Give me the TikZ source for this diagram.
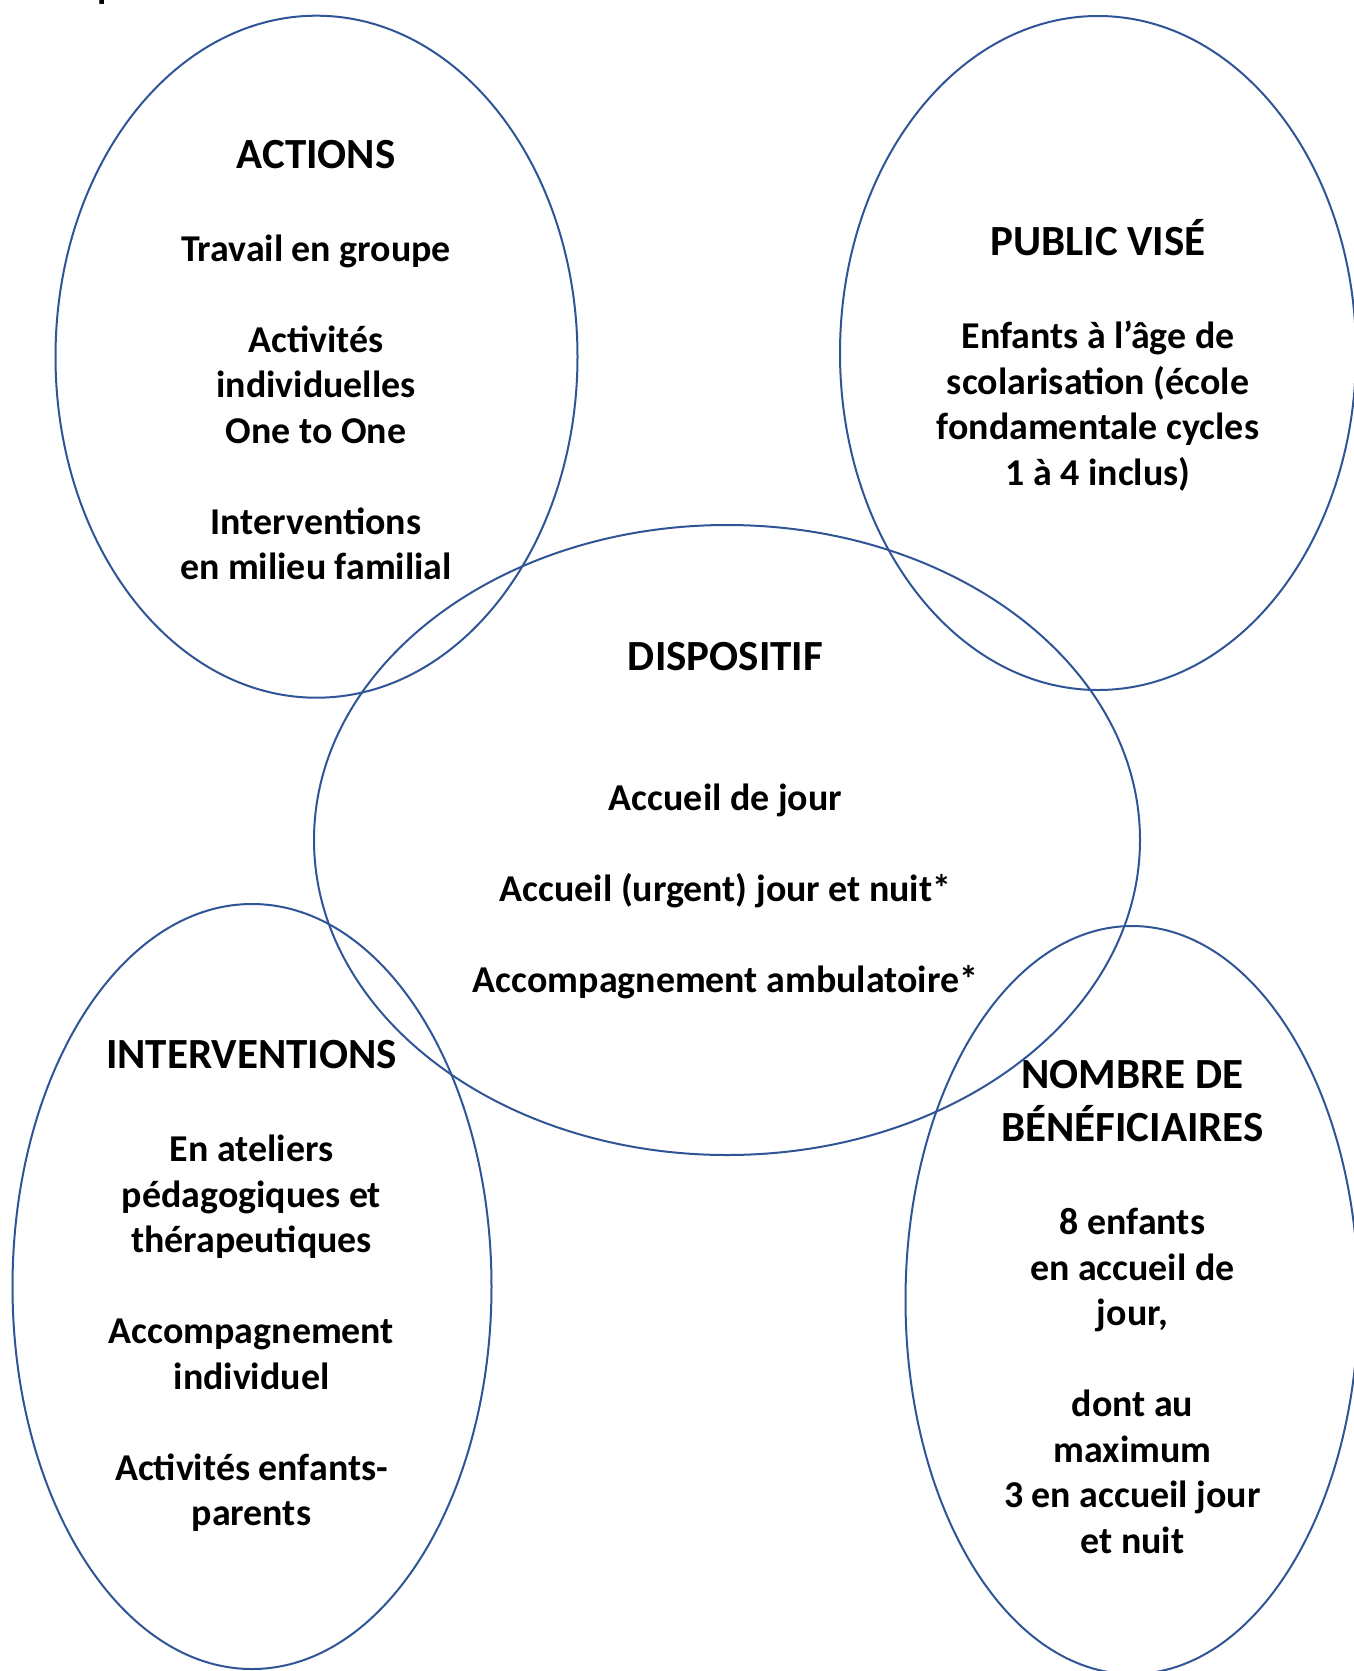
\documentclass[tikz,border=0pt]{standalone}
\usepackage{fontspec}
\setmainfont{Carlito}
\usetikzlibrary{shapes.geometric}
\definecolor{ringblue}{RGB}{47,85,151}
\tikzset{
  ring/.style={
    ellipse, draw=ringblue, line width=2pt, inner sep=0pt
  },
  heading/.style={
    anchor=north, align=center, inner sep=0pt,
    font=\bfseries\fontsize{43}{52}\selectfont,
    execute at begin node=\strut
  },
  bodytext/.style={
    anchor=north, align=center, inner sep=0pt,
    font=\bfseries\fontsize{37.9}{45.5}\selectfont,
    execute at begin node=\strut
  }
}

\begin{document}
\begin{tikzpicture}[x=1pt, y=-1pt]
  \useasboundingbox (0,0) rectangle (1354,1671);

  % line of text above, cut off by the page edge
  \node[bodytext, anchor=base west] (above) at (97,-2) {p};

  % the five ellipses
  \node[ring, minimum width=522pt, minimum height=682pt] (actions) at (316.5,356.7) {};
  \node[ring, minimum width=516pt, minimum height=674pt] (public) at (1098,353) {};
  \node[ring, minimum width=826pt, minimum height=630pt] (dispositif) at (727,840) {};
  \node[ring, minimum width=479pt, minimum height=765pt] (interv) at (252,1286.5) {};
  \node[ring, minimum width=453pt, minimum height=748pt] (nombre) at (1132,1300) {};

  % actions
  \node[heading] (actionsT) at (316,132.3) {ACTIONS};
  \node[bodytext] (actionsB) at (316,234.6) {Travail en groupe\\[45.5pt]
    Activités\\individuelles\\One to One\\[45.5pt]
    Interventions\\en milieu familial};

  % public vise
  \node[heading] (publicT) at (1098,218.5) {PUBLIC VISÉ};
  \node[bodytext] (publicB) at (1098,320.8) {Enfants à l’âge de\\
    scolarisation (école\\fondamentale cycles\\1 à 4 inclus)};

  % dispositif
  \node[heading] (dispositifT) at (725.5,633.5) {DISPOSITIF};
  \node[bodytext] (dispositifB) at (725.5,783.4) {Accueil de jour\\[45.5pt]
    Accueil (urgent) jour et nuit*\\[45.5pt]
    Accompagnement ambulatoire*};

  % interventions
  \node[heading] (intervT) at (251.5,1031.8) {INTERVENTIONS};
  \node[bodytext] (intervB) at (251.5,1135) {En ateliers\\
    pédagogiques et\\thérapeutiques\\[45.5pt]
    Accompagnement\\individuel\\[45.5pt]
    Activités enfants-\\parents};

  % nombre de beneficiaires
  \node[heading] (nombreT) at (1132.4,1060) {NOMBRE DE\\[1pt]BÉNÉFICIAIRES};
  \node[bodytext] (nombreB) at (1132.4,1208) {8 enfants\\en accueil de\\jour,\\[45.5pt]
    dont au\\maximum\\3 en accueil jour\\et nuit};
\end{tikzpicture}
\end{document}
